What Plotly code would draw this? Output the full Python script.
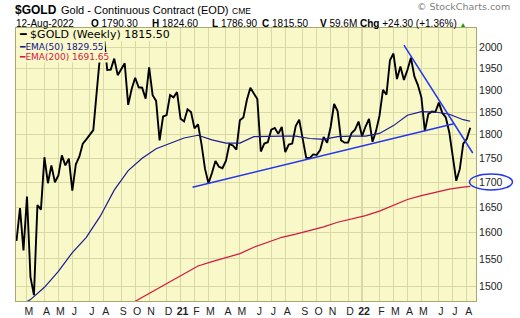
import pandas as pd
import numpy as np
import plotly.graph_objects as go

# ---------------- data ----------------
START = "2020-02-14"
PRICE = [
    1584, 1648, 1566, 1671, 1517, 1484, 1654, 1645, 1752, 1698,
    1735, 1700, 1714, 1756, 1735, 1749, 1683, 1737, 1753, 1781,
    1790, 1801, 1810, 1897, 1986, 2028, 1946, 1947, 1973, 1934,
    1947, 1962, 1866, 1902, 1928, 1906, 1905, 1880, 1952, 1888,
    1875, 1788, 1840, 1843, 1888, 1883, 1895,
    1835, 1829, 1856, 1850, 1814, 1823, 1780, 1728, 1698, 1719,
    1744, 1732, 1729, 1744, 1780, 1777, 1768, 1832, 1838, 1877,
    1905, 1892, 1879, 1764, 1781, 1784, 1811, 1815, 1802, 1817,
    1763, 1779, 1781, 1819, 1833, 1791, 1751, 1750, 1758, 1757,
    1767, 1795, 1783, 1817, 1868, 1852, 1788, 1783, 1783, 1804,
    1811, 1829,
    1797, 1818, 1835, 1785, 1808, 1842, 1900, 1889, 1969, 1985,
    1925, 1954, 1923, 1946, 1975, 1931, 1911, 1883, 1808, 1846,
    1851, 1850, 1871, 1848, 1838, 1805, 1748, 1703, 1727, 1781,
    1791, 1815.50,
]
DATES = pd.date_range(START, periods=len(PRICE), freq="W-FRI")

# moving averages every 4 weeks (+ last week)
EMA_DATES = list(DATES[::4]) + [DATES[-1]]
EMA50 = [
    1462, 1476, 1498, 1527, 1562, 1591, 1632, 1684, 1724, 1750,
    1770, 1781, 1793, 1799, 1789, 1782, 1782, 1796, 1797, 1797,
    1797, 1792, 1790, 1796, 1797, 1797, 1803, 1820, 1843, 1851,
    1850, 1845, 1833, 1829.55,
]
EMA200 = [
    None, None, None, None, None, None, None, None, 1466, 1480,
    1494, 1508, 1524, 1537, 1545, 1552, 1560, 1572, 1582, 1591,
    1597, 1604, 1611, 1620, 1626, 1633, 1642, 1654, 1665, 1673,
    1680, 1686, 1690, 1691.65,
]

UP_TREND_DATES = ["2021-02-01", "2022-07-10"]
UP_TREND_VALS = [1690, 1824]
DOWN_TREND_DATES = ["2022-04-01", "2022-08-17"]
DOWN_TREND_VALS = [2005, 1761]

TICK_LABELS = ["M", "A", "M", "J", "J", "A", "S", "O", "N", "D", "<b>21</b>",
               "F", "M", "A", "M", "J", "J", "A", "S", "O", "N", "D", "<b>22</b>",
               "F", "M", "A", "M", "J", "J", "A"]
Y_TICKS = [1500, 1550, 1600, 1650, 1700, 1750, 1800, 1850, 1900, 1950, 2000]

# ---------------- styling ----------------
W, H = 520, 318
ML, MR, MT, MB = 16, 43.5, 28, 17
PW, PH = W - ML - MR, H - MT - MB
BG = "#F8F8C9"
GRID = "#D9D9A6"
YEARGRID = "#B9B97E"
BORDER = "#A8A870"
BLUE_T = "#2436EE"
SANS = "Liberation Sans, Arial"


def px(x):
    return (x - ML) / PW


def py(y):
    return (H - MB - y) / PH


# month ticks: first weekly bar whose week starts in a new month
mon = DATES - pd.Timedelta(days=4)
tickvals = [DATES[i] for i in range(1, len(DATES)) if mon[i].month != mon[i - 1].month]
tickvals = tickvals[:len(TICK_LABELS)]

fig = go.Figure()
fig.add_trace(go.Scatter(x=DATES, y=PRICE, mode="lines",
                         line=dict(color="#000000", width=1.9), hoverinfo="skip"))
fig.add_trace(go.Scatter(x=EMA_DATES, y=EMA50, mode="lines",
                         line=dict(color="#1B1B92", width=1.2), hoverinfo="skip"))
fig.add_trace(go.Scatter(x=EMA_DATES, y=EMA200, mode="lines",
                         line=dict(color="#D5173F", width=1.2), hoverinfo="skip"))
fig.add_trace(go.Scatter(x=UP_TREND_DATES, y=UP_TREND_VALS, mode="lines",
                         line=dict(color=BLUE_T, width=1.5), hoverinfo="skip"))
fig.add_trace(go.Scatter(x=DOWN_TREND_DATES, y=DOWN_TREND_VALS, mode="lines",
                         line=dict(color=BLUE_T, width=1.5), hoverinfo="skip"))

shapes = []
for tv, lab in zip(tickvals, TICK_LABELS):
    if "<b>" in lab:
        shapes.append(dict(type="line", xref="x", yref="paper", x0=tv, x1=tv, y0=0, y1=1,
                           line=dict(color=YEARGRID, width=1), layer="between"))
# opaque legend backgrounds (one per legend row)
for (x1, y0, y1) in [(176, 28.5, 41), (105, 41, 52), (111, 52, 62.5)]:
    shapes.append(dict(type="rect", xref="paper", yref="paper",
                       x0=px(16.5), x1=px(x1), y0=py(y1), y1=py(y0),
                       fillcolor=BG, line=dict(width=0), layer="above"))
# ellipse around the 1700 label
shapes.append(dict(type="circle", xref="paper", yref="paper",
                   x0=px(470), x1=px(513), y0=py(190), y1=py(174),
                   line=dict(color=BLUE_T, width=1.5), layer="above"))

ann = []


def txt(x, y, text, size, color="#000000", family=SANS, anchor="left"):
    ann.append(dict(xref="paper", yref="paper", x=px(x), y=py(y), text=text, showarrow=False,
                    xanchor=anchor, yanchor="middle",
                    font=dict(size=size, color=color, family=family), borderpad=0))


# header line 1
txt(14, 9.5, "<b>$GOLD</b>", 12)
txt(60, 10, "Gold - Continuous Contract (EOD)", 11)
txt(231, 10.5, "CME", 8.5)
# header line 2
txt(15, 23, "12-Aug-2022", 10)
txt(90, 23, "<b>O</b> 1790.30", 10)
txt(151, 23, "<b>H</b> 1824.60", 10)
txt(211, 23, "<b>L</b> 1786.90", 10)
txt(261, 23, "<b>C</b> 1815.50", 10)
txt(319, 23, "<b>V</b> 59.6M", 10)
txt(359, 23, "<b>Chg</b> +24.30 (+1.36%) <span style='color:#119911;font-size:7px'>▲</span>", 10)
txt(512, 6, "© StockCharts.com", 9.5, color="#808080", family="DejaVu Sans", anchor="right")

# legend rows
txt(18, 34.5, "━ $GOLD (Weekly) 1815.50", 11, color="#000000", family="DejaVu Sans")
txt(18, 46.5, "━EMA(50) 1829.55", 9, color="#12128C", family="DejaVu Sans")
txt(18, 57.3, "━EMA(200) 1691.65", 9, color="#D5173F", family="DejaVu Sans")

x_lo = DATES[0] - pd.Timedelta(days=1)
x_hi = DATES[-1] + pd.Timedelta(hours=277)

fig.update_layout(
    width=W, height=H,
    margin=dict(l=ML, r=MR, t=MT, b=MB, autoexpand=False),
    paper_bgcolor="#FFFFFF", plot_bgcolor=BG,
    showlegend=False,
    shapes=shapes, annotations=ann,
    xaxis=dict(type="date", range=[x_lo, x_hi], tickmode="array", tickvals=tickvals,
               ticktext=TICK_LABELS, showgrid=True, gridcolor=GRID, gridwidth=1,
               ticks="", ticklabelshift=2,
               tickfont=dict(family=SANS, size=10.5, color="#222222"),
               showline=True, linecolor=BORDER, linewidth=1, mirror=True, zeroline=False,
               fixedrange=True),
    yaxis=dict(type="log", side="right", range=[np.log10(1473.5), np.log10(2047)],
               tickmode="array", tickvals=Y_TICKS, ticktext=[str(v) for v in Y_TICKS],
               showgrid=True, gridcolor=GRID, gridwidth=1, ticks="",
               tickfont=dict(family=SANS, size=10.5, color="#222222"),
               showline=True, linecolor=BORDER, linewidth=1, mirror=True, zeroline=False,
               fixedrange=True),
)

fig.write_html("out.html")
